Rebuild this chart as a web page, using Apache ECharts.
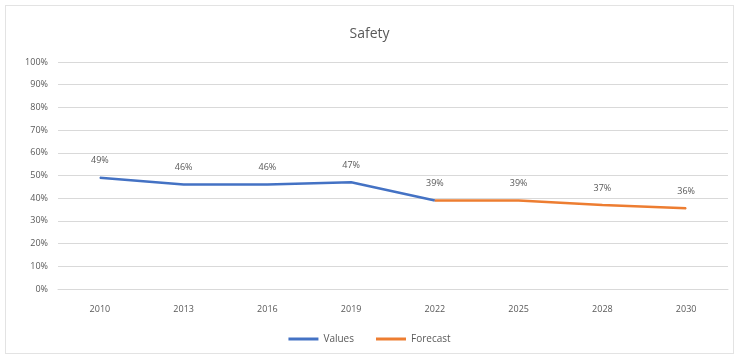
<!DOCTYPE html>
<html><head><meta charset="utf-8">
<script src="https://cdn.jsdelivr.net/npm/echarts@6/dist/echarts.min.js"></script>
<style>
html,body{margin:0;padding:0;background:#fff;}
#frame{position:absolute;left:5px;top:5px;width:729px;height:349px;border:1px solid #e3e3e3;box-sizing:border-box;}
#c{position:absolute;left:0;top:0;width:739px;height:358px;}
</style></head>
<body><div id="frame"></div><div id="c"></div>
<script>
const categories = ['2010','2013','2016','2019','2022','2025','2028','2030'];
const valuesSeries = [49, 46, 46, 47, 39, null, null, null];
const forecastSeries = [null, null, null, null, 39, 39, 37, 35.6];
const yTicks = [0,10,20,30,40,50,60,70,80,90,100];

const chart = echarts.init(document.getElementById('c'), null, {renderer:'canvas'});
const font = 'Open Sans, Noto Sans, sans-serif';
const lbl = {show:true, position:'top', distance:12, color:'#595959', fontSize:9, fontFamily:font,
  formatter: p => Math.round(p.value) + '%'};
chart.setOption({
  animation:false,
  title:{text:'Safety', left:'center', top:22, textStyle:{color:'#595959', fontSize:14, fontWeight:'normal', fontFamily:font}},
  grid:{left:58, right:11, top:62, bottom:69, containLabel:false},
  legend:{bottom:9, left:'center', itemWidth:30, itemHeight:3, icon:'rect', itemGap:22,
    textStyle:{color:'#595959', fontSize:10, fontFamily:font},
    data:['Values','Forecast']},
  xAxis:{type:'category', data:categories, boundaryGap:true,
    axisLine:{lineStyle:{color:'#d9d9d9'}}, axisTick:{show:false},
    axisLabel:{color:'#595959', fontSize:9, fontFamily:font, margin:16}},
  yAxis:{type:'value', min:yTicks[0], max:yTicks[yTicks.length-1], interval:10,
    axisLine:{show:false}, axisTick:{show:false},
    splitLine:{lineStyle:{color:'#d9d9d9'}},
    axisLabel:{color:'#595959', fontSize:9, fontFamily:font, formatter:'{value}%', margin:10}},
  series:[
    {name:'Values', type:'line', data:valuesSeries, color:'#4472C4', symbol:'circle', symbolSize:1,
      lineStyle:{width:2.5, color:'#4472C4'}, label:lbl},
    {name:'Forecast', type:'line', color:'#ED7D31', symbol:'circle', symbolSize:1,
      data: forecastSeries.map((v,i)=> i===4 ? {value:v, label:{show:false}} : v),
      lineStyle:{width:2.5, color:'#ED7D31'}, label:lbl}
  ]
});
</script></body></html>
